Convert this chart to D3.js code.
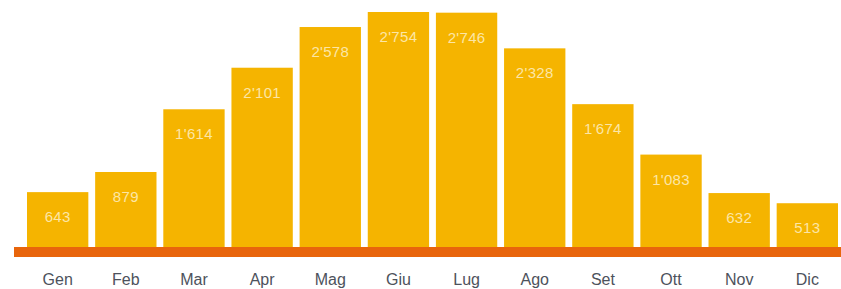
<!DOCTYPE html>
<html><head><meta charset="utf-8">
<script src="https://cdn.jsdelivr.net/npm/d3@7"></script>
<style>body{margin:0;background:#fff}svg{display:block}</style>
</head><body>
<svg id="c" width="841" height="289"></svg>
<script>
const months = ["Gen","Feb","Mar","Apr","Mag","Giu","Lug","Ago","Set","Ott","Nov","Dic"];
const values = [643,879,1614,2101,2578,2754,2746,2328,1674,1083,632,513];
const labels = ["643","879","1'614","2'101","2'578","2'754","2'746","2'328","1'674","1'083","632","513"];

const svg = d3.select("#c");
const baseY = 247;
const x = d3.scaleBand().domain(months).range([27, 838]).paddingInner(0.1).paddingOuter(0);
const y = d3.scaleLinear().domain([0, 2754]).range([baseY, 12]);

svg.selectAll("rect.bar").data(values).join("rect")
  .attr("class","bar")
  .attr("x",(d,i)=>x(months[i]))
  .attr("width",x.bandwidth())
  .attr("y",d=>y(d))
  .attr("height",d=>baseY-y(d))
  .attr("fill","#f5b400");

svg.selectAll("text.val").data(values).join("text")
  .attr("class","val")
  .attr("x",(d,i)=>x(months[i])+x.bandwidth()/2)
  .attr("y",d=>y(d)+30)
  .attr("text-anchor","middle")
  .attr("font-family","Liberation Sans, Arial, sans-serif")
  .attr("font-size",15)
  .attr("letter-spacing","0.3px")
  .attr("fill","#fce6a6")
  .text((d,i)=>labels[i]);

svg.append("rect").attr("x",14).attr("y",baseY).attr("width",841-14).attr("height",10).attr("fill","#e8650c");

const axis = d3.axisBottom(x).tickSize(0).tickPadding(0);
const g = svg.append("g").attr("transform",`translate(0,${baseY+10})`).call(axis);
g.select(".domain").remove();
g.selectAll("text")
  .attr("dy",null).attr("y",28)
  .attr("font-family","Liberation Sans, Arial, sans-serif")
  .attr("font-size",16)
  .attr("fill","#4d525c");
</script>
</body></html>
